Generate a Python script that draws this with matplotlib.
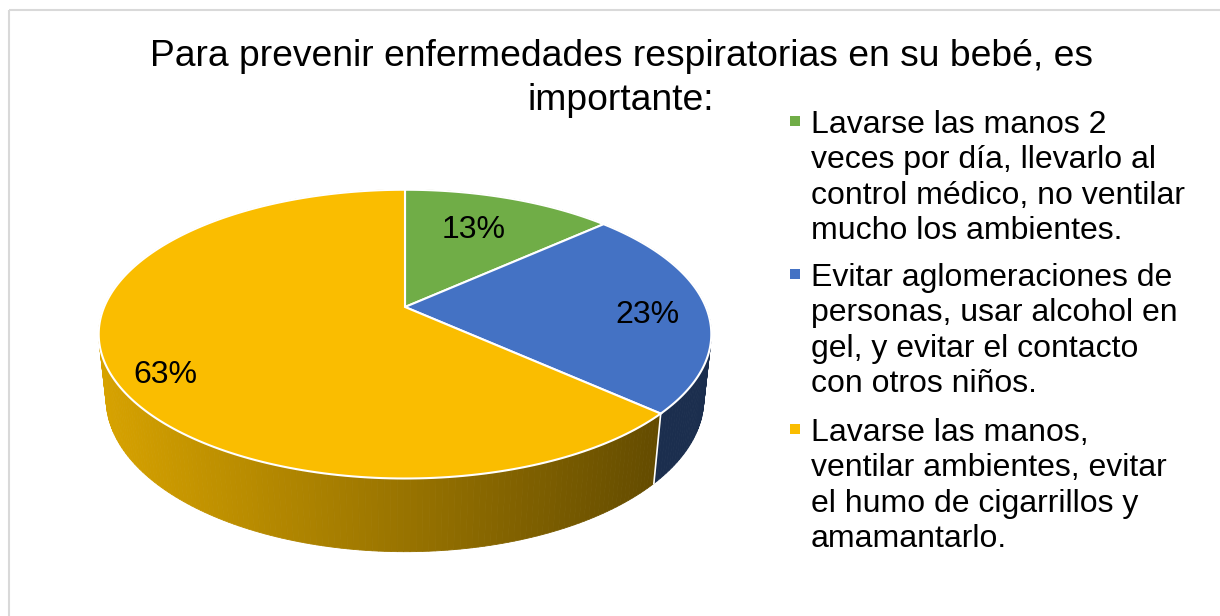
import numpy as np
import matplotlib.pyplot as plt
from matplotlib.patches import Polygon, Rectangle

plt.rcParams['font.family'] = ['Liberation Sans', 'DejaVu Sans']

# data (4, 7 and 19 answers out of 30)
labels = ['Lavarse las manos 2\nveces por día, llevarlo al\ncontrol médico, no ventilar\nmucho los ambientes.',
          'Evitar aglomeraciones de\npersonas, usar alcohol en\ngel, y evitar el contacto\ncon otros niños.',
          'Lavarse las manos,\nventilar ambientes, evitar\nel humo de cigarrillos y\namamantarlo.']
values = [4, 7, 19]
colors = ['#70ad47', '#4472c4', '#fabd00']
title = 'Para prevenir enfermedades respiratorias en su bebé, es\nimportante:'

# projection of the tilted pie (pixel space of the figure)
CX, CY = 405, 307
F = 1420.0
TILT = np.arcsin(0.463)
DIST = 4.72
DEPTH = 0.245


def project(th, z=0.0, r=1.0):
    X = r * np.sin(th)
    Y = r * np.cos(th)
    s, c = np.sin(TILT), np.cos(TILT)
    v = Y * s + z * c
    d = Y * c - z * s
    return CX + F * X / (DIST + d), CY - F * v / (DIST + d)


def shade(col, x):
    rgb = np.array(plt.matplotlib.colors.to_rgb(col))
    t = np.clip((x - 100) / 560.0, 0, 1)
    f = 0.86 - 0.46 * t
    return tuple(rgb * f)


fig = plt.figure(figsize=(12.2, 6.16), dpi=100)
ax = fig.add_axes([0, 0, 1, 1])
ax.set_xlim(0, 1220)
ax.set_ylim(616, 0)
ax.axis('off')

ax.add_patch(Rectangle((9, 10), 1300, 700, fill=False, edgecolor='#d9d9d9', linewidth=1.5))

total = float(sum(values))
bounds = np.concatenate([[0], np.cumsum(values) / total * 2 * np.pi])

# side walls, drawn far to near
quads = []
for i in range(len(values)):
    ths = np.linspace(bounds[i], bounds[i + 1], max(3, int((bounds[i + 1] - bounds[i]) * 180 / np.pi)))
    for a, b in zip(ths[:-1], ths[1:]):
        x1, y1 = project(a)
        x2, y2 = project(b)
        x3, y3 = project(b, -DEPTH)
        x4, y4 = project(a, -DEPTH)
        col = shade(colors[i], (x1 + x2) / 2)
        quads.append((np.cos((a + b) / 2), [(x1, y1), (x2, y2), (x3, y3), (x4, y4)], col))
quads.sort(key=lambda q: -q[0])
for _, pts, col in quads:
    ax.add_patch(Polygon(pts, closed=True, facecolor=col, edgecolor=col, linewidth=0.6))

# white seams on the visible wall
for b in bounds:
    if np.cos(b) < 0:
        x1, y1 = project(b)
        x2, y2 = project(b, -DEPTH)
        ax.plot([x1, x2], [y1, y2], color='white', linewidth=1.2)

# top faces
for i in range(len(values)):
    ths = np.linspace(bounds[i], bounds[i + 1], 200)
    xs, ys = project(ths)
    pts = [(CX, CY)] + list(zip(xs, ys))
    ax.add_patch(Polygon(pts, closed=True, facecolor=colors[i], edgecolor='white', linewidth=1.5))

# percentage labels (small nudges like Excel's best fit)
nudge = [(-16, 11), (8, 8), (-12, 21)]
for i in range(len(values)):
    mid = (bounds[i] + bounds[i + 1]) / 2
    lx, ly = project(mid, r=0.78)
    ax.text(lx + nudge[i][0], ly + nudge[i][1], '{:.0f}%'.format(values[i] / total * 100), fontsize=23,
            ha='center', va='center', color='black')

ax.text(621, 78.5, title, fontsize=26.8, ha='center', va='center', linespacing=1.33)

# legend
ytops = [110, 263, 418]
for i in range(len(values)):
    ax.add_patch(Rectangle((790, ytops[i] + 6), 10, 10, facecolor=colors[i], edgecolor='none'))
    ax.text(811, ytops[i], labels[i], fontsize=23, ha='left', va='top', linespacing=1.235)

plt.savefig('out.png', dpi=100)
